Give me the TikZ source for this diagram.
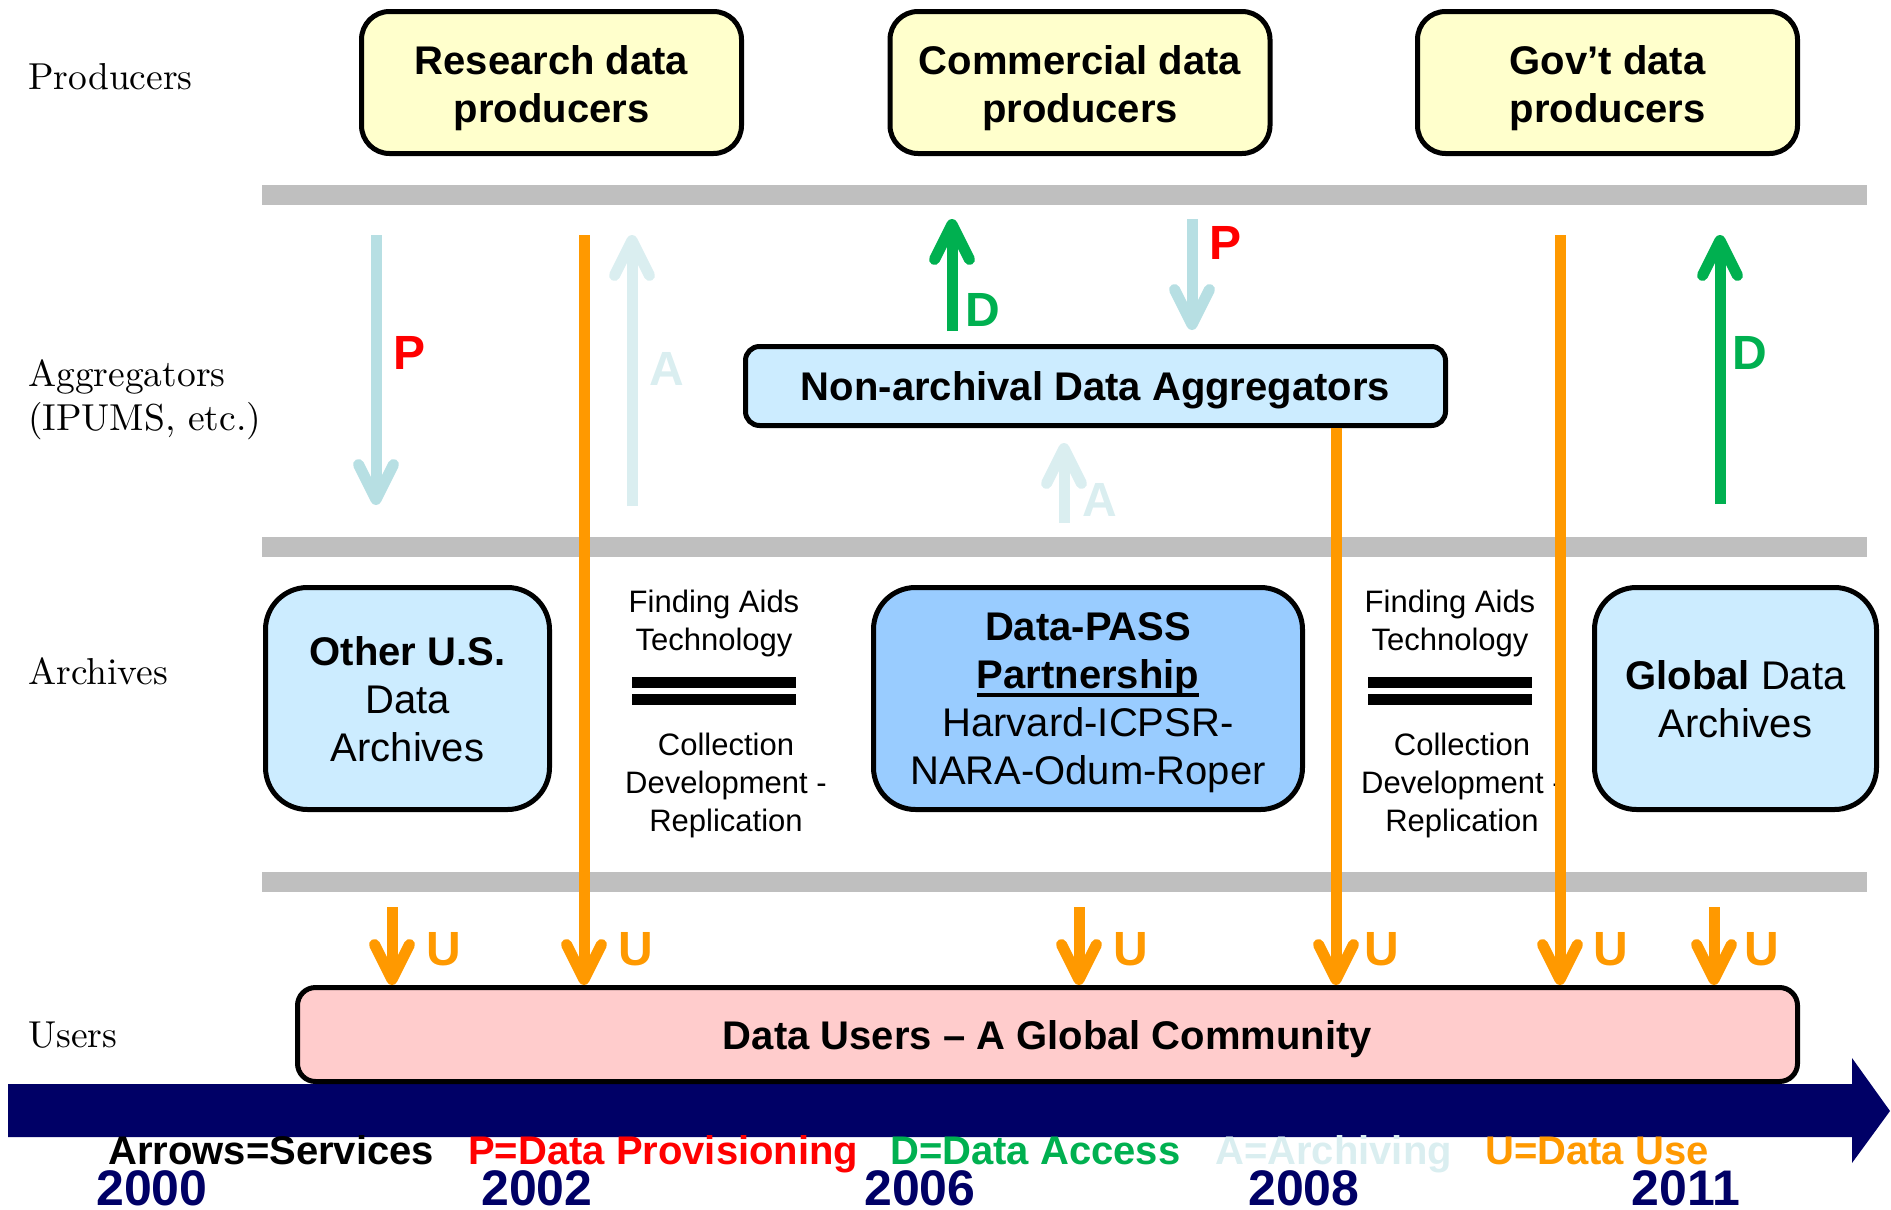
\documentclass[tikz,border=0pt]{standalone}
\usepackage{fontspec}
\newfontfamily\arial{Liberation Sans}
\newfontfamily\serifl[Extension=.otf]{lmroman10-regular}
\usetikzlibrary{arrows.meta}
\definecolor{yellowfill}{HTML}{FFFFCC}
\definecolor{lbfill}{HTML}{CCECFF}
\definecolor{dpfill}{HTML}{99CCFF}
\definecolor{pinkfill}{HTML}{FFCCCC}
\definecolor{bargray}{HTML}{BFBFBF}
\definecolor{uorange}{HTML}{FF9900}
\definecolor{dgreen}{HTML}{00B050}
\definecolor{pblue}{HTML}{B7DFE3}
\definecolor{alight}{HTML}{DAEEF0}
\definecolor{pred}{HTML}{FF0000}
\definecolor{navy}{HTML}{000066}
\newcommand\myfs[2]{\fontsize{#1}{#2}\selectfont}
\newcommand\myul[1]{\setbox0=\hbox{#1}\rlap{\rule[-8.5pt]{\wd0}{3.5pt}}\box0}
\newcommand\mystrut{\rule{0pt}{32pt}}
\begin{document}
\begin{tikzpicture}[x=1pt,y=-1pt,
  boxtext/.style={font=\arial\myfs{40}{48}, align=center, text depth=0pt, inner sep=0pt},
  pbox/.style={boxtext, draw, line width=5pt, fill=yellowfill, rounded corners=28pt,
    minimum width=380pt, minimum height=142pt},
  abox/.style={boxtext, draw, line width=5pt, fill=lbfill, rounded corners=42pt,
    minimum height=222pt},
  rowlab/.style={font=\serifl\myfs{37.5}{44}, inner sep=0pt, align=left},
  ftext/.style={font=\arial\myfs{31}{38}, align=center, inner sep=0pt},
  arr/.style={line width=11pt, -{Straight Barb[length=35pt,width=35pt,round]}},
  lab/.style={font=\arial\bfseries\myfs{48}{48}, inner sep=0pt},
  legend/.style={font=\arial\bfseries\myfs{40}{48}, inner sep=0pt, anchor=base west},
  year/.style={font=\arial\bfseries\myfs{50}{50}, text=navy, inner sep=0pt, anchor=base},
  graybar/.style={fill=bargray}
]
\useasboundingbox (0,0) rectangle (1891,1210);

% row labels
\node[rowlab, anchor=base west] (lprod) at (28,89) {Producers};
\node[rowlab, anchor=west] (laggr) at (28,400) {Aggregators\\(IPUMS, etc.)};
\node[rowlab, anchor=base west] (larch) at (28,684) {Archives};
\node[rowlab, anchor=base west] (luser) at (28,1047) {Users};

% gray separators
\fill[graybar] (262,185) rectangle (1867,205);
\fill[graybar] (262,537) rectangle (1867,557);
\fill[graybar] (262,872) rectangle (1867,892);

% timeline arrow
\fill[navy] (8,1084) -- (1852,1084) -- (1852,1058) -- (1890,1111) -- (1852,1163)
  -- (1852,1137) -- (8,1137) -- cycle;

% producers
\node[pbox] (research) at (551.5,82.5) {\mystrut\bfseries Research data\\\bfseries producers};
\node[pbox] (commercial) at (1080,82.5) {\mystrut\bfseries Commercial data\\\bfseries producers};
\node[pbox] (govt) at (1607.5,82.5) {\mystrut\bfseries Gov’t data\\\bfseries producers};

% aggregators
\node[boxtext, draw, line width=5pt, fill=lbfill, rounded corners=14pt,
  minimum width=700pt, minimum height=79pt] (nonarch) at (1095.5,386)
  {\bfseries Non-archival Data Aggregators};

% archives
\node[abox, minimum width=284pt] (otherus) at (407.5,698.5)
  {\bfseries Other U.S.\\Data\\Archives};
\node[abox, minimum width=429pt, fill=dpfill] (datapass) at (1088,698.5)
  {\bfseries Data-PASS\\\bfseries\myul{Partnership}\\Harvard-ICPSR-\\NARA-Odum-Roper};
\node[abox, minimum width=282pt] (global) at (1735.5,698.5)
  {\textbf{Global} Data\\Archives};

% finding aids blocks
\node[ftext] (fa1) at (714,623) {Finding Aids\\Technology};
\fill (632,677) rectangle (796,688);
\fill (632,694) rectangle (796,705);
\node[ftext] (cd1) at (726,785.5) {Collection\\Development -\\Replication};
\node[ftext] (fa2) at (1450,623) {Finding Aids\\Technology};
\fill (1368,677) rectangle (1532,688);
\fill (1368,694) rectangle (1532,705);
\node[ftext] (cd2) at (1462,785.5) {Collection\\Development -\\Replication};

% users
\node[boxtext, draw, line width=5pt, fill=pinkfill, rounded corners=18pt,
  minimum width=1500pt, minimum height=94pt] (users) at (1047.5,1034.5)
  {\bfseries Data Users – A Global Community};

% coordinates for arrow ends
\coordinate (p1s) at (376,235);  \coordinate (p1e) at (376,505);
\coordinate (a1s) at (632,506);  \coordinate (a1e) at (632,235);
\coordinate (d1s) at (952,331);  \coordinate (d1e) at (952,219);
\coordinate (p2s) at (1192,219); \coordinate (p2e) at (1192,330);
\coordinate (a2s) at (1064,523); \coordinate (a2e) at (1064,443);
\coordinate (d2s) at (1720,504); \coordinate (d2e) at (1720,235);
\coordinate (u1s) at (584,235);
\coordinate (u2s) at (1336,0);
\coordinate (u3s) at (1560,235);
\coordinate (s1s) at (392,907);
\coordinate (s2s) at (1079,907);
\coordinate (s3s) at (1714,907);

% service arrows
\draw[arr, pblue] (p1s) -- (p1e);
\draw[arr, alight] (a1s) -- (a1e);
\draw[arr, dgreen] (d1s) -- (d1e);
\draw[arr, pblue] (p2s) -- (p2e);
\draw[arr, alight] (a2s) -- (a2e);
\draw[arr, dgreen] (d2s) -- (d2e);
\draw[arr, uorange] (u1s) -- (users.north -| u1s);
\draw[arr, uorange] (nonarch.south -| u2s) -- (users.north -| u2s);
\draw[arr, uorange] (u3s) -- (users.north -| u3s);
\draw[arr, uorange] (s1s) -- (users.north -| s1s);
\draw[arr, uorange] (s2s) -- (users.north -| s2s);
\draw[arr, uorange] (s3s) -- (users.north -| s3s);

% arrow labels
\node[lab, text=pred] (lp1) at (410,353) {P};
\node[lab, text=alight] (la1) at (667,369) {A};
\node[lab, text=dgreen] (ld1) at (983,310) {D};
\node[lab, text=pred] (lp2) at (1225,243) {P};
\node[lab, text=alight] (la2) at (1100,500) {A};
\node[lab, text=dgreen] (ld2) at (1750,353) {D};
\node[lab, text=uorange] (lu1) at (444,949) {U};
\node[lab, text=uorange] (lu2) at (636,949) {U};
\node[lab, text=uorange] (lu3) at (1131,949) {U};
\node[lab, text=uorange] (lu4) at (1382,949) {U};
\node[lab, text=uorange] (lu5) at (1611,949) {U};
\node[lab, text=uorange] (lu6) at (1762,949) {U};

% legend
\node[legend] (lg1) at (108,1164) {Arrows=Services};
\node[legend, text=pred] (lg2) at (468,1164) {P=Data Provisioning};
\node[legend, text=dgreen] (lg3) at (890,1164) {D=Data Access};
\node[legend, text=alight] (lg4) at (1215,1164) {A=Archiving};
\node[legend, text=uorange] (lg5) at (1485,1164) {U=Data Use};

% years
\node[year] (y1) at (152,1205) {2000};
\node[year] (y2) at (537,1205) {2002};
\node[year] (y3) at (920,1205) {2006};
\node[year] (y4) at (1304,1205) {2008};
\node[year] (y5) at (1686,1205) {2011};
\end{tikzpicture}
\end{document}
